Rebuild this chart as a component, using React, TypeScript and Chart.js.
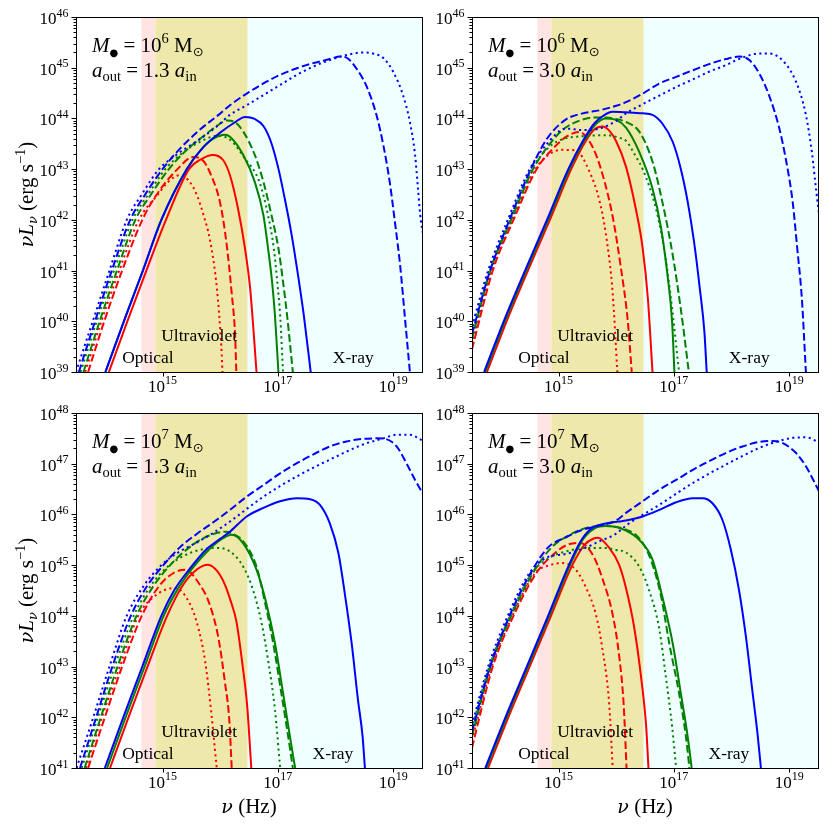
import React, { useEffect, useRef } from 'react';
import { Chart, registerables } from 'chart.js';

Chart.register(...registerables);

// Each curve: [log10(nu / Hz), log10(nu L_nu / erg s^-1)]
type Pt = [number, number];

// ---------- Top-left: M = 1e6, a_out = 1.3 a_in ----------
const TL_BLUE_SOLID: Pt[] = [[14.01,39],[14.33,40],[14.66,41],[14.98,42],[15.42,43],[15.72,43.45],[16.0,43.72],[16.25,43.92],[16.43,44.03],[16.6,43.99],[16.75,43.85],[16.88,43.54],[17.01,43.01],[17.12,42.42],[17.24,41.7],[17.35,40.91],[17.45,40.12],[17.57,39]];
const TL_BLUE_DASHED: Pt[] = [[13.55,39],[13.83,40],[14.12,41],[14.44,42],[14.7,42.5],[15.0,43.0],[15.3,43.4],[15.65,43.78],[15.95,44.05],[16.17,44.26],[16.46,44.49],[16.75,44.69],[17.04,44.86],[17.33,44.99],[17.61,45.09],[17.9,45.17],[18.08,45.22],[18.19,45.2],[18.36,44.99],[18.54,44.63],[18.71,44.07],[18.83,43.47],[18.94,42.75],[19.03,41.96],[19.12,41.11],[19.2,40.12],[19.29,39]];
const TL_BLUE_DOTTED: Pt[] = [[13.5,39],[13.79,40],[14.08,41],[14.38,42],[14.64,42.5],[14.94,43],[15.26,43.3],[15.66,43.6],[15.95,43.85],[16.17,44.07],[16.46,44.26],[16.75,44.46],[17.04,44.66],[17.33,44.86],[17.61,45.02],[17.9,45.15],[18.19,45.25],[18.48,45.3],[18.65,45.28],[18.83,45.19],[19.0,44.92],[19.17,44.46],[19.29,43.93],[19.38,43.28],[19.43,42.62],[19.47,42.09],[19.52,41.7]];
const TL_GREEN_SOLID: Pt[] = [[14.01,39],[14.33,40],[14.66,41],[14.98,42],[15.42,43],[15.65,43.36],[15.88,43.6],[16.08,43.68],[16.17,43.64],[16.4,43.28],[16.6,42.75],[16.75,42.09],[16.83,41.44],[16.9,40.78],[16.95,40.12],[17.01,39]];
const TL_GREEN_DASHED: Pt[] = [[13.63,39],[13.91,40],[14.21,41],[14.53,42],[14.8,42.5],[15.11,43],[15.43,43.39],[15.72,43.66],[15.95,43.86],[16.12,43.96],[16.25,43.93],[16.4,43.74],[16.6,43.28],[16.75,42.75],[16.89,42.09],[17.01,41.44],[17.09,40.78],[17.16,40.12],[17.26,39]];
const TL_GREEN_DOTTED: Pt[] = [[13.58,39],[13.86,40],[14.16,41],[14.48,42],[14.75,42.5],[15.05,43],[15.37,43.34],[15.69,43.56],[15.95,43.66],[16.17,43.58],[16.43,43.21],[16.68,42.75],[16.83,42.09],[16.93,41.44],[16.99,40.78],[17.04,40.12],[17.09,39]];
const TL_RED_SOLID: Pt[] = [[14.07,39],[14.39,40],[14.72,41],[15.06,42],[15.46,43],[15.66,43.19],[15.87,43.28],[16.05,43.18],[16.17,42.88],[16.31,42.22],[16.43,41.44],[16.52,40.65],[16.58,39.79],[16.63,39]];
const TL_RED_DASHED: Pt[] = [[13.71,39],[13.99,40],[14.3,41],[14.65,42],[14.9,42.5],[15.26,43],[15.53,43.24],[15.71,43.16],[15.85,42.86],[16.0,42.33],[16.11,41.54],[16.2,40.55],[16.26,39.7],[16.28,39]];
const TL_RED_DOTTED: Pt[] = [[13.66,39],[13.94,40],[14.25,41],[14.59,42],[14.92,42.5],[15.1,42.75],[15.29,42.88],[15.45,42.78],[15.6,42.48],[15.71,42.1],[15.82,41.62],[15.94,40.68],[16.02,39.5],[16.04,39]];

// ---------- Top-right: M = 1e6, a_out = 3.0 a_in ----------
const TR_BLUE_SOLID: Pt[] = [[13.71,39],[14.05,40],[14.42,41],[14.8,42],[15.17,43],[15.42,43.55],[15.62,43.9],[15.8,44.07],[15.94,44.13],[16.17,44.12],[16.46,44.1],[16.63,44.07],[16.8,43.9],[16.98,43.54],[17.12,43.01],[17.24,42.36],[17.35,41.57],[17.45,40.65],[17.53,39.79],[17.57,39]];
const TR_BLUE_DASHED: Pt[] = [[13.5,39.75],[13.8,40.95],[14.15,42],[14.52,43],[14.8,43.6],[15.13,43.98],[15.42,44.1],[15.71,44.16],[16.0,44.25],[16.17,44.32],[16.46,44.49],[16.75,44.69],[17.04,44.82],[17.33,44.95],[17.61,45.07],[17.9,45.17],[18.13,45.22],[18.31,45.15],[18.48,44.89],[18.65,44.46],[18.83,43.8],[18.94,43.21],[19.06,42.36],[19.14,41.44],[19.22,40.45],[19.29,39]];
const TR_BLUE_DOTTED: Pt[] = [[13.5,39.9],[13.78,41],[14.12,42],[14.5,43],[14.8,43.5],[15.13,43.8],[15.42,43.77],[15.71,43.8],[16.0,43.95],[16.17,44.1],[16.46,44.28],[16.75,44.45],[17.04,44.62],[17.33,44.77],[17.61,44.92],[17.9,45.05],[18.19,45.2],[18.48,45.28],[18.65,45.28],[18.88,45.15],[19.12,44.72],[19.29,44.07],[19.4,43.28],[19.47,42.56],[19.52,42.1]];
const TR_GREEN_SOLID: Pt[] = [[13.73,39],[14.07,40],[14.44,41],[14.82,42],[15.19,43],[15.44,43.55],[15.64,43.88],[15.82,44.0],[16.0,43.97],[16.17,43.82],[16.4,43.34],[16.63,42.62],[16.78,41.83],[16.89,40.91],[16.97,39.99],[17.01,39]];
const TR_GREEN_DASHED: Pt[] = [[13.5,39.65],[13.82,41],[14.18,42],[14.56,43],[14.85,43.5],[15.1,43.8],[15.4,43.97],[15.65,44.02],[15.94,44.0],[16.17,43.93],[16.4,43.74],[16.63,43.15],[16.8,42.36],[16.98,41.31],[17.12,40.25],[17.26,39]];
const TR_GREEN_DOTTED: Pt[] = [[13.5,39.8],[13.8,41],[14.16,42],[14.54,43],[14.85,43.45],[15.1,43.6],[15.42,43.65],[15.82,43.67],[16.05,43.62],[16.17,43.56],[16.34,43.25],[16.46,43.0],[16.69,42.22],[16.83,41.44],[16.95,40.45],[17.09,39]];
const TR_RED_SOLID: Pt[] = [[13.76,39],[14.1,40],[14.47,41],[14.85,42],[15.22,43],[15.47,43.55],[15.62,43.78],[15.76,43.84],[15.88,43.76],[16.0,43.55],[16.17,43.05],[16.34,42.22],[16.46,41.44],[16.55,40.45],[16.63,39]];
const TR_RED_DASHED: Pt[] = [[13.5,39.45],[13.86,41],[14.22,42],[14.62,43],[14.9,43.4],[15.15,43.65],[15.36,43.73],[15.59,43.44],[15.76,42.91],[15.94,42.06],[16.08,41.07],[16.2,40.02],[16.27,39]];
const TR_RED_DOTTED: Pt[] = [[13.5,39.55],[13.84,41],[14.2,42],[14.6,43],[14.85,43.3],[15.05,43.38],[15.3,43.37],[15.53,42.97],[15.71,42.38],[15.82,41.73],[15.94,40.55],[16.02,39]];

// ---------- Bottom-left: M = 1e7, a_out = 1.3 a_in ----------
const BL_BLUE_SOLID: Pt[] = [[14.0,41],[14.32,42],[14.65,43],[14.98,44],[15.2,44.5],[15.48,44.94],[15.75,45.3],[16.0,45.52],[16.17,45.66],[16.46,45.96],[16.75,46.13],[17.04,46.26],[17.33,46.32],[17.56,46.3],[17.73,46.19],[17.9,45.83],[18.05,45.24],[18.16,44.45],[18.28,43.46],[18.39,42.34],[18.47,41.62],[18.51,41]];
const BL_BLUE_DASHED: Pt[] = [[13.57,41],[13.85,42],[14.13,43],[14.45,44],[14.74,44.6],[15.0,44.98],[15.3,45.35],[15.6,45.62],[15.9,45.86],[16.17,46.09],[16.46,46.35],[16.75,46.58],[17.04,46.81],[17.33,47.01],[17.61,47.18],[17.9,47.34],[18.19,47.44],[18.48,47.49],[18.71,47.5],[18.86,47.49],[19.06,47.34],[19.23,47.01],[19.38,46.68],[19.52,46.4]];
const BL_BLUE_DOTTED: Pt[] = [[13.51,41],[13.8,42],[14.08,43],[14.38,44],[14.68,44.6],[15.0,45.02],[15.3,45.27],[15.6,45.45],[15.9,45.65],[16.17,45.86],[16.75,46.35],[17.33,46.75],[17.9,47.08],[18.48,47.38],[18.83,47.5],[19.06,47.57],[19.29,47.57],[19.52,47.45]];
const BL_GREEN_SOLID: Pt[] = [[14.04,41],[14.36,42],[14.69,43],[15.02,44],[15.25,44.5],[15.52,44.94],[15.8,45.3],[16.05,45.53],[16.2,45.6],[16.4,45.43],[16.63,44.91],[16.8,44.25],[16.95,43.46],[17.09,42.48],[17.21,41.62],[17.3,41]];
const BL_GREEN_DASHED: Pt[] = [[13.65,41],[13.93,42],[14.22,43],[14.55,44],[14.85,44.6],[15.15,45.02],[15.5,45.38],[15.8,45.58],[16.11,45.66],[16.17,45.64],[16.4,45.47],[16.63,44.97],[16.78,44.25],[16.92,43.46],[17.06,42.48],[17.18,41.62],[17.26,41]];
const BL_GREEN_DOTTED: Pt[] = [[13.6,41],[13.88,42],[14.17,43],[14.5,44],[14.8,44.6],[15.1,44.98],[15.5,45.25],[15.94,45.34],[16.17,45.27],[16.4,44.97],[16.57,44.51],[16.72,43.85],[16.83,43.13],[16.95,42.15],[17.04,41]];
const BL_RED_SOLID: Pt[] = [[14.09,41],[14.41,42],[14.74,43],[15.08,44],[15.35,44.6],[15.6,44.92],[15.79,45.01],[15.95,44.88],[16.08,44.62],[16.18,44.3],[16.28,43.9],[16.38,43.1],[16.47,42.2],[16.54,41]];
const BL_RED_DASHED: Pt[] = [[13.71,41],[14.0,42],[14.3,43],[14.64,44],[14.95,44.6],[15.2,44.85],[15.39,44.91],[15.65,44.61],[15.82,44.22],[15.97,43.56],[16.08,42.71],[16.16,41.92],[16.2,41]];
const BL_RED_DOTTED: Pt[] = [[13.67,41],[13.95,42],[14.26,43],[14.58,44],[14.9,44.42],[15.22,44.55],[15.42,44.35],[15.59,43.89],[15.74,43.1],[15.85,42.05],[15.94,41]];

// ---------- Bottom-right: M = 1e7, a_out = 3.0 a_in ----------
const BR_BLUE_SOLID: Pt[] = [[13.73,41],[14.08,42],[14.45,43],[14.82,44],[15.18,45],[15.4,45.5],[15.59,45.74],[15.82,45.82],[16.05,45.86],[16.17,45.88],[16.46,45.96],[16.75,46.09],[17.04,46.24],[17.33,46.32],[17.5,46.32],[17.67,46.22],[17.84,45.9],[17.99,45.3],[18.13,44.51],[18.25,43.59],[18.36,42.54],[18.45,41.69],[18.51,41]];
const BR_BLUE_DASHED: Pt[] = [[13.5,41.72],[13.8,42.95],[14.15,44],[14.52,44.85],[14.82,45.35],[15.13,45.55],[15.42,45.7],[15.71,45.78],[16.0,45.88],[16.17,46.03],[16.46,46.26],[16.75,46.49],[17.04,46.68],[17.33,46.88],[17.61,47.05],[17.9,47.21],[18.19,47.34],[18.48,47.43],[18.71,47.45],[18.88,47.41],[19.12,47.21],[19.29,46.95],[19.4,46.72],[19.52,46.45]];
const BR_BLUE_DOTTED: Pt[] = [[13.5,41.85],[13.78,43],[14.12,44],[14.5,44.85],[14.8,45.15],[15.13,45.22],[15.42,45.32],[15.71,45.47],[16.0,45.62],[16.17,45.78],[16.75,46.19],[17.33,46.62],[17.9,46.98],[18.48,47.31],[18.77,47.43],[19.06,47.51],[19.29,47.52],[19.52,47.42]];
const BR_GREEN_SOLID: Pt[] = [[13.75,41],[14.1,42],[14.47,43],[14.84,44],[15.2,45],[15.42,45.5],[15.62,45.72],[15.82,45.77],[16.0,45.75],[16.17,45.68],[16.4,45.5],[16.63,45.11],[16.8,44.38],[16.98,43.46],[17.12,42.48],[17.24,41.62],[17.31,41]];
const BR_GREEN_DASHED: Pt[] = [[13.5,41.62],[13.82,43],[14.18,44],[14.56,44.85],[14.88,45.35],[15.2,45.6],[15.5,45.74],[15.82,45.77],[16.17,45.7],[16.4,45.53],[16.6,45.11],[16.78,44.38],[16.92,43.46],[17.09,42.48],[17.21,41.62],[17.27,41]];
const BR_GREEN_DOTTED: Pt[] = [[13.5,41.78],[13.8,43],[14.16,44],[14.54,44.85],[14.85,45.15],[15.13,45.27],[15.5,45.34],[15.8,45.34],[16.0,45.3],[16.17,45.25],[16.4,44.97],[16.57,44.51],[16.75,43.73],[16.86,42.81],[16.97,41.82],[17.04,41]];
const BR_RED_SOLID: Pt[] = [[13.78,41],[14.13,42],[14.5,43],[14.87,44],[15.24,45],[15.45,45.4],[15.6,45.52],[15.68,45.54],[15.88,45.34],[16.05,45.01],[16.17,44.55],[16.31,43.79],[16.43,42.81],[16.52,41.82],[16.56,41]];
const BR_RED_DASHED: Pt[] = [[13.5,41.4],[13.86,43],[14.22,44],[14.62,44.85],[14.95,45.25],[15.15,45.4],[15.36,45.44],[15.59,45.21],[15.76,44.74],[15.94,44.02],[16.05,43.23],[16.13,42.25],[16.18,41]];
const BR_RED_DOTTED: Pt[] = [[13.5,41.55],[13.84,43],[14.2,44],[14.6,44.85],[14.85,45.0],[15.07,45.04],[15.3,44.91],[15.48,44.55],[15.65,44.02],[15.76,43.36],[15.88,42.25],[15.94,41]];

// ---------- Axes / annotations ----------
const X_RANGE_EXP = [13.5, 19.5];
const X_TICK_EXPS = [15, 17, 19];
const TOP_Y_RANGE_EXP = [39, 46];
const BOTTOM_Y_RANGE_EXP = [41, 48];
const BAND_EDGES_HZ = [4.3e14, 7.5e14, 3.0e16];
const BAND_LABELS = ['Optical', 'Ultraviolet', 'X-ray'];
const OPTICAL_LABEL_NU = 2.0e14;
const UV_LABEL_NU = 9.5e14;
const XRAY_LABEL_NU = [9e17, 9e17, 4e17, 4e17];
const MASS_EXPONENTS = [6, 6, 7, 7];
const RADIUS_RATIOS = ['1.3', '3.0', '1.3', '3.0'];

const COLORS: Record<string, string> = { blue: '#0000ff', green: '#008000', red: '#ff0000' };
const BAND_COLORS = ['#ffe4e1', '#eee8aa', '#f0ffff'];
const DASHES = [[], [7.7, 3.3], [2.1, 3.4]];
const SERIF = "'Liberation Serif', 'DejaVu Serif', serif";
const GREEK = "'DejaVu Serif', 'Liberation Serif', serif";
const SYM = "'DejaVu Sans', 'Noto Sans', sans-serif";

type Series = { blue: Pt[][]; green: Pt[][]; red: Pt[][] };
const SERIES: Series[] = [
  { blue: [TL_BLUE_SOLID, TL_BLUE_DASHED, TL_BLUE_DOTTED], green: [TL_GREEN_SOLID, TL_GREEN_DASHED, TL_GREEN_DOTTED], red: [TL_RED_SOLID, TL_RED_DASHED, TL_RED_DOTTED] },
  { blue: [TR_BLUE_SOLID, TR_BLUE_DASHED, TR_BLUE_DOTTED], green: [TR_GREEN_SOLID, TR_GREEN_DASHED, TR_GREEN_DOTTED], red: [TR_RED_SOLID, TR_RED_DASHED, TR_RED_DOTTED] },
  { blue: [BL_BLUE_SOLID, BL_BLUE_DASHED, BL_BLUE_DOTTED], green: [BL_GREEN_SOLID, BL_GREEN_DASHED, BL_GREEN_DOTTED], red: [BL_RED_SOLID, BL_RED_DASHED, BL_RED_DOTTED] },
  { blue: [BR_BLUE_SOLID, BR_BLUE_DASHED, BR_BLUE_DOTTED], green: [BR_GREEN_SOLID, BR_GREEN_DASHED, BR_GREEN_DOTTED], red: [BR_RED_SOLID, BR_RED_DASHED, BR_RED_DOTTED] },
];

// layout boxes [left, top, right, bottom] in page pixels
const BOXES = [
  [76, 17, 422, 372],
  [472, 17, 818, 372],
  [76, 413, 422, 768],
  [472, 413, 818, 768],
];

type Run = { t: string; size: number; italic?: boolean; dy?: number; family?: string };
const fontOf = (r: Run) => `${r.italic ? 'italic ' : ''}${r.size}px ${r.family ?? SERIF}`;

function drawRuns(ctx: CanvasRenderingContext2D, x: number, y: number, runs: Run[], align: 'left' | 'center' | 'right') {
  let w = 0;
  for (const r of runs) { ctx.font = fontOf(r); w += ctx.measureText(r.t).width; }
  let cx = align === 'left' ? x : align === 'center' ? x - w / 2 : x - w;
  ctx.textAlign = 'left';
  ctx.textBaseline = 'alphabetic';
  for (const r of runs) {
    ctx.font = fontOf(r);
    ctx.fillText(r.t, cx, y + (r.dy ?? 0));
    cx += ctx.measureText(r.t).width;
  }
}

function makePlugin(i: number) {
  const isTop = i < 2;
  const isLeft = i % 2 === 0;
  const yr = isTop ? TOP_Y_RANGE_EXP : BOTTOM_Y_RANGE_EXP;
  return {
    id: 'panelDecor' + i,
    beforeDatasetsDraw(chart: any) {
      const { ctx, chartArea: a, scales } = chart;
      const xs = scales.x;
      const edges = [...BAND_EDGES_HZ, Math.pow(10, X_RANGE_EXP[1])];
      ctx.save();
      for (let b = 0; b < 3; b++) {
        const x0 = Math.max(a.left, xs.getPixelForValue(edges[b]));
        const x1 = Math.min(a.right, xs.getPixelForValue(edges[b + 1]));
        ctx.fillStyle = BAND_COLORS[b];
        ctx.fillRect(x0, a.top, x1 - x0, a.bottom - a.top);
      }
      ctx.restore();
    },
    afterDatasetsDraw(chart: any) {
      const { ctx, chartArea: a, scales } = chart;
      const xs = scales.x, ys = scales.y;
      ctx.save();
      ctx.fillStyle = '#000';
      // band labels
      const base = yr[0];
      const lowY = ys.getPixelForValue(1.5 * Math.pow(10, base));
      const uvY = ys.getPixelForValue(4 * Math.pow(10, base));
      drawRuns(ctx, xs.getPixelForValue(OPTICAL_LABEL_NU), lowY, [{ t: BAND_LABELS[0], size: 17.5 }], 'left');
      drawRuns(ctx, xs.getPixelForValue(UV_LABEL_NU), uvY, [{ t: BAND_LABELS[1], size: 17.5 }], 'left');
      drawRuns(ctx, xs.getPixelForValue(XRAY_LABEL_NU[i]), lowY, [{ t: BAND_LABELS[2], size: 17.5 }], 'left');
      // annotation
      drawRuns(ctx, a.left + 16, a.top + 35, [
        { t: 'M', size: 21, italic: true },
        { t: '●', size: 10, dy: 4, family: SYM },
        { t: ' = ', size: 21 },
        { t: '10', size: 21 },
        { t: String(MASS_EXPONENTS[i]), size: 14.5, dy: -9 },
        { t: ' M', size: 21 },
        { t: '⊙', size: 13, dy: 4, family: SYM },
      ], 'left');
      drawRuns(ctx, a.left + 16, a.top + 60, [
        { t: 'a', size: 21, italic: true },
        { t: 'out', size: 14.5, dy: 4 },
        { t: ' = ' + RADIUS_RATIOS[i] + ' ', size: 21 },
        { t: 'a', size: 21, italic: true },
        { t: 'in', size: 14.5, dy: 4 },
      ], 'left');
      // spines
      ctx.strokeStyle = '#000';
      ctx.lineWidth = 1;
      ctx.strokeRect(Math.round(a.left) + 0.5, Math.round(a.top) + 0.5, Math.round(a.right - a.left), Math.round(a.bottom - a.top));
      // ticks
      ctx.beginPath();
      for (let e = yr[0]; e <= yr[1]; e++) {
        const py = Math.round(ys.getPixelForValue(Math.pow(10, e))) + 0.5;
        ctx.moveTo(a.left - 4.5, py); ctx.lineTo(a.left, py);
        if (e < yr[1]) {
          for (let k = 2; k <= 9; k++) {
            const pm = Math.round(ys.getPixelForValue(k * Math.pow(10, e))) + 0.5;
            ctx.moveTo(a.left - 2.5, pm); ctx.lineTo(a.left, pm);
          }
        }
      }
      for (const e of X_TICK_EXPS) {
        const px = Math.round(xs.getPixelForValue(Math.pow(10, e))) + 0.5;
        ctx.moveTo(px, a.bottom); ctx.lineTo(px, a.bottom + 4.5);
      }
      ctx.stroke();
      // tick labels
      for (let e = yr[0]; e <= yr[1]; e++) {
        const py = ys.getPixelForValue(Math.pow(10, e));
        drawRuns(ctx, a.left - 7.5, py + 7, [{ t: '10', size: 17 }, { t: String(e), size: 12, dy: -7.5 }], 'right');
      }
      for (const e of X_TICK_EXPS) {
        const px = xs.getPixelForValue(Math.pow(10, e));
        drawRuns(ctx, px, a.bottom + 19.5, [{ t: '10', size: 17 }, { t: String(e), size: 12, dy: -8 }], 'center');
      }
      // axis titles
      if (isLeft) {
        ctx.save();
        ctx.translate(33, (a.top + a.bottom) / 2);
        ctx.rotate(-Math.PI / 2);
        drawRuns(ctx, 0, 0, [
          { t: 'ν', size: 19, italic: true, family: GREEK },
          { t: 'L', size: 21, italic: true },
          { t: 'ν', size: 13, italic: true, dy: 4, family: GREEK },
          { t: ' (erg s', size: 21 },
          { t: '−1', size: 14.5, dy: -8 },
          { t: ')', size: 21 },
        ], 'center');
        ctx.restore();
      }
      if (!isTop) {
        drawRuns(ctx, (a.left + a.right) / 2, a.bottom + 45, [
          { t: 'ν', size: 19, italic: true, family: GREEK },
          { t: ' (Hz)', size: 21 },
        ], 'center');
      }
      ctx.restore();
    },
  };
}

function buildConfig(i: number): any {
  const s = SERIES[i];
  const [l, t, r, b] = BOXES[i];
  const yr = i < 2 ? TOP_Y_RANGE_EXP : BOTTOM_Y_RANGE_EXP;
  const datasets: any[] = [];
  (['blue', 'green', 'red'] as const).forEach((c) => {
    s[c].forEach((pts, k) => {
      datasets.push({
        data: pts.map(([lx, ly]) => ({ x: Math.pow(10, lx), y: Math.pow(10, ly) })),
        borderColor: COLORS[c],
        borderWidth: 2,
        borderDash: DASHES[k],
        borderCapStyle: 'butt',
        borderJoinStyle: 'round',
        pointRadius: 0,
        fill: false,
        cubicInterpolationMode: 'monotone',
        clip: 0,
      });
    });
  });
  return {
    type: 'line',
    data: { datasets },
    options: {
      responsive: false,
      animation: false,
      events: [],
      layout: { padding: { left: l, top: t, right: 830 - r, bottom: 830 - b } },
      scales: {
        x: { type: 'logarithmic', min: Math.pow(10, X_RANGE_EXP[0]), max: Math.pow(10, X_RANGE_EXP[1]), display: false },
        y: { type: 'logarithmic', min: Math.pow(10, yr[0]), max: Math.pow(10, yr[1]), display: false },
      },
      plugins: { legend: { display: false }, tooltip: { enabled: false } },
    },
    plugins: [makePlugin(i)],
  };
}

function Panel({ index }: { index: number }) {
  const ref = useRef<HTMLCanvasElement>(null);
  useEffect(() => {
    const chart = new Chart(ref.current as HTMLCanvasElement, buildConfig(index));
    return () => chart.destroy();
  }, [index]);
  return <canvas ref={ref} width={830} height={830} style={{ position: 'absolute', left: 0, top: 0, width: 830, height: 830 }} />;
}

export default function App() {
  return (
    <div style={{ position: 'absolute', left: 0, top: 0, width: 830, height: 830, background: '#fff', overflow: 'hidden' }}>
      {[0, 1, 2, 3].map((i) => <Panel key={i} index={i} />)}
    </div>
  );
}
